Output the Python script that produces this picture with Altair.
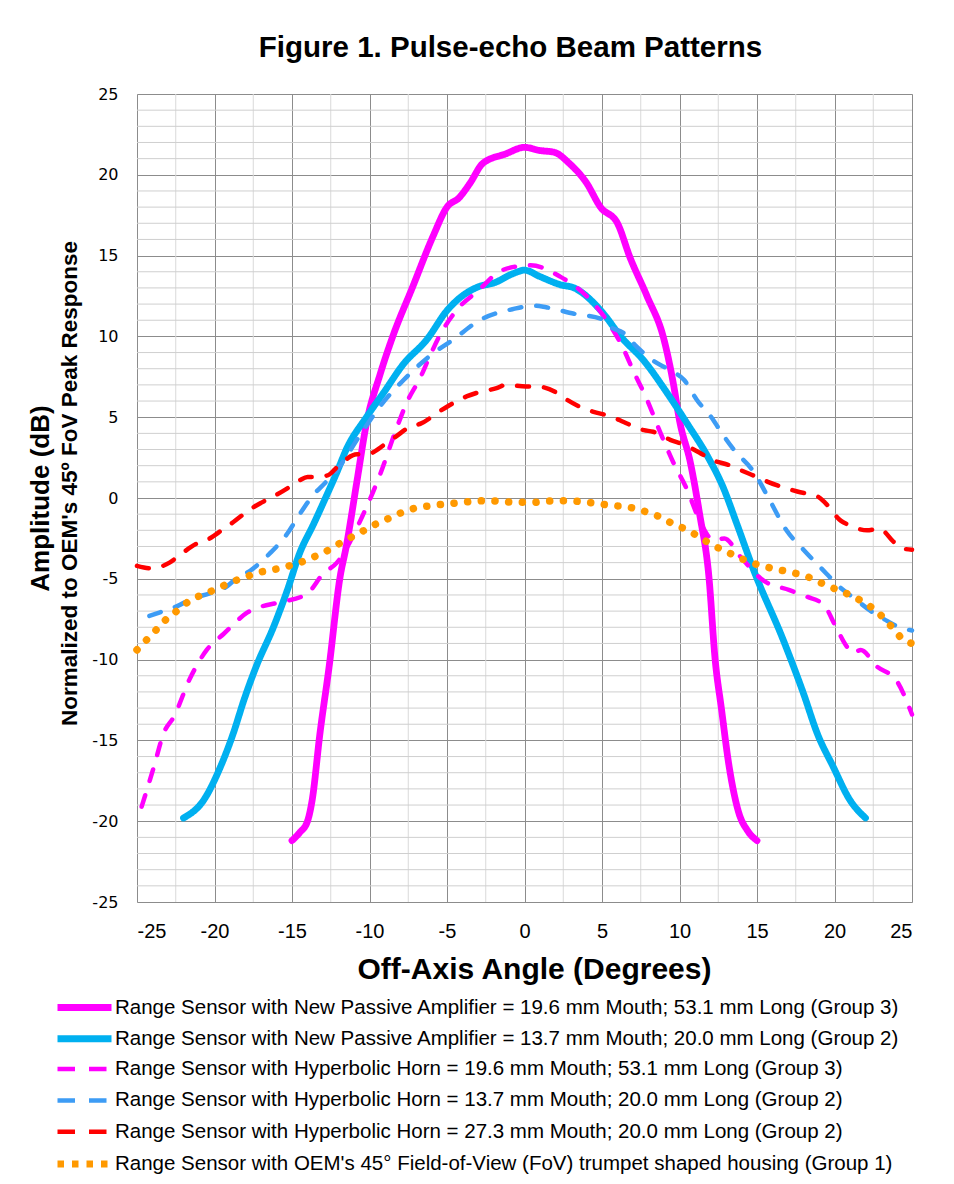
import altair as alt
import pandas as pd

SERIES = [
    "Range Sensor with New Passive Amplifier = 19.6 mm Mouth; 53.1 mm Long (Group 3)",
    "Range Sensor with New Passive Amplifier = 13.7 mm Mouth; 20.0 mm Long (Group 2)",
    "Range Sensor with Hyperbolic Horn = 19.6 mm Mouth; 53.1 mm Long (Group 3)",
    "Range Sensor with Hyperbolic Horn = 13.7 mm Mouth; 20.0 mm Long (Group 2)",
    "Range Sensor with Hyperbolic Horn = 27.3 mm Mouth; 20.0 mm Long (Group 2)",
    "Range Sensor with OEM's 45\u00b0 Field-of-View (FoV) trumpet shaped housing (Group 1)",
]
COLORS = ["#ff00ff", "#00b0f0", "#ff00ff", "#3d9cf5", "#ff0000", "#ff9900"]
DASHES = [[1, 0], [1, 0], [12, 15], [12, 15], [12, 15], [0.1, 13.6]]
WIDTHS = [6.8, 6.8, 4.5, 4.5, 4.5, 7.5]
LEGEND_DASHES = [[1, 0], [1, 0], [17.5, 14], [17.5, 14], [17.5, 14], [6.5, 8]]
LEGEND_WIDTHS = [7, 7, 4.5, 4.5, 4.5, 7]

# Passive amplifier 19.6 mm (magenta solid)
S1_X = [-15.0, -14.5, -14.0, -13.7, -13.2, -12.6, -11.9, -11.5, -10.8, -10.2, -9.3, -8.5, -7.2, -5.9, -5.0,
        -4.2, -3.5, -2.7, -1.2, 0.0, 1.0, 1.9, 2.9, 4.0, 4.9, 6.0, 6.8, 7.9, 9.0, 9.6, 10.0, 10.7, 11.3,
        11.9, 12.3, 12.7, 13.2, 13.8, 14.4, 15.0]
S1_Y = [-21.2, -20.7, -20.0, -18.7, -14.6, -10.4, -4.9, -3.0, 1.1, 4.6, 7.7, 10.0, 13.1, 16.2, 18.0,
        18.6, 19.5, 20.7, 21.3, 21.7, 21.5, 21.4, 20.7, 19.5, 18.0, 17.0, 14.9, 12.5, 9.8, 7.1, 4.8, 2.2, -1.0,
        -4.9, -10.0, -13.0, -16.6, -19.4, -20.6, -21.2]

# Passive amplifier 13.7 mm (cyan solid)
S2_X = [-22.0, -20.7, -19.6, -18.8, -18.1, -17.3, -16.2, -15.3, -14.5, -13.6, -12.7, -12.1, -11.5, -10.2,
        -9.1, -7.8, -6.3, -5.0, -2.9, -2.0, -0.7, 0.0, 1.0, 2.3, 3.2, 5.1, 6.2, 7.7, 9.2, 10.5, 11.8, 12.8,
        13.7, 14.8, 16.7, 18.0, 18.9, 19.9, 21.0, 22.0]
S2_Y = [-19.8, -18.7, -16.6, -14.6, -12.5, -10.4, -8.0, -5.7, -3.4, -1.6, 0.3, 1.6, 3.0, 5.0,
        6.5, 8.3, 9.8, 11.6, 13.1, 13.3, 13.9, 14.1, 13.7, 13.2, 13.0, 11.4, 10.0, 8.5, 6.5, 4.6, 2.6, 0.7,
        -1.6, -4.5, -8.8, -12.1, -14.6, -16.6, -18.7, -19.8]

# Hyperbolic horn 19.6 mm (magenta dashed)
S3_X = [-24.7, -23.9, -23.3, -22.6, -21.6, -20.5, -19.4, -17.9, -16.0, -15.5, -14.0, -13.0, -12.1, -10.4,
        -9.3, -8.3, -7.6, -6.7, -6.1, -5.5, -4.4, -2.9, -1.8, -0.7, 0.4, 2.3, 4.0, 5.3, 6.4, 7.0, 7.9, 8.7,
        9.6, 10.5, 11.3, 12.2, 12.9, 13.9, 15.4, 17.1, 18.2, 19.3, 20.1, 20.8, 21.2, 21.7, 22.7, 24.0, 25.0]
S3_Y = [-19.1, -16.6, -14.6, -13.5, -11.2, -9.4, -8.4, -7.1, -6.5, -6.4, -5.9, -4.7, -4.0, -1.0,
        1.5, 4.2, 5.9, 7.5, 8.8, 10.0, 11.6, 12.9, 13.9, 14.3, 14.4, 13.7, 12.5, 11.0, 9.2, 7.9, 6.1, 4.2,
        2.2, 0.5, -1.4, -2.6, -2.5, -3.6, -5.1, -5.7, -6.1, -6.6, -8.0, -9.2, -9.6, -9.4, -10.4, -11.3, -13.4]

# Hyperbolic horn 13.7 mm (blue dashed)
S4_X = [-24.2, -23.3, -22.2, -21.6, -20.3, -19.4, -18.6, -17.7, -16.4, -15.3, -14.5, -13.7, -12.9, -12.3,
        -10.4, -9.3, -7.8, -6.1, -4.6, -2.9, -0.7, 0.6, 1.4, 3.2, 4.9, 5.5, 6.4, 7.2, 8.3, 9.4, 10.3, 11.1,
        12.2, 12.6, 13.5, 14.8, 15.8, 16.9, 18.0, 19.5, 20.1, 21.4, 22.5, 23.2, 24.2, 25.0]
S4_Y = [-7.3, -7.0, -6.6, -6.3, -5.9, -5.6, -5.0, -4.5, -3.4, -2.2, -1.0, 0.1, 0.9, 1.5,
        4.2, 5.7, 7.3, 8.8, 9.8, 11.0, 11.7, 11.9, 11.8, 11.4, 11.1, 10.6, 10.2, 9.4, 8.5, 7.9, 7.3, 6.1,
        4.8, 4.2, 3.0, 1.6, -0.1, -2.0, -3.2, -4.7, -5.3, -6.3, -7.1, -7.5, -8.0, -8.2]

# Hyperbolic horn 27.3 mm (red dashed)
S5_X = [-25.0, -24.1, -22.9, -22.2, -21.1, -20.5, -19.4, -18.8, -17.7, -17.0, -16.0, -15.3, -14.5, -14.0,
        -13.6, -12.7, -12.0, -10.8, -10.2, -8.9, -8.3, -7.4, -6.7, -5.5, -5.0, -3.7, -3.1, -1.8, -1.2, 0.1,
        0.8, 2.1, 2.7, 3.8, 4.4, 5.7, 6.4, 7.7, 8.3, 9.4, 10.3, 11.3, 12.0, 13.3, 14.0, 15.0, 15.7, 16.9,
        17.6, 18.9, 19.4, 20.4, 21.0, 22.1, 22.9, 23.8, 24.3, 25.0]
S5_Y = [-4.2, -4.35, -4.0, -3.5, -2.8, -2.6, -1.9, -1.5, -0.7, -0.3, 0.2, 0.6, 1.1, 1.3,
        1.3, 1.4, 2.0, 2.7, 2.7, 3.4, 3.8, 4.4, 4.6, 5.35, 5.65, 6.3, 6.5, 6.8, 7.0, 6.9,
        6.9, 6.5, 6.1, 5.55, 5.35, 5.0, 4.7, 4.2, 4.1, 3.6, 3.3, 2.8, 2.4, 2.0, 1.7, 1.3, 1.0, 0.6,
        0.4, 0.1, -0.3, -1.4, -1.7, -2.0, -1.9, -2.7, -3.1, -3.2]

# OEM 45 deg trumpet housing (orange dotted)
S6_X = [-25.0, -24.3, -23.7, -23.0, -22.3, -21.6, -20.7, -19.8, -19.0, -18.1, -17.2, -16.3, -15.4, -14.5,
        -13.6, -12.8, -12.0, -11.2, -10.3, -9.5, -8.6, -7.8, -6.9, -6.0, -5.1, -4.1, -3.2, -2.3, -1.3, -0.4,
        0.5, 1.4, 2.4, 3.3, 4.2, 5.2, 6.1, 7.0, 7.9, 8.8, 9.6, 10.5, 11.3, 12.1, 13.0, 13.8, 14.7, 15.6,
        16.5, 17.4, 18.3, 19.1, 20.0, 20.9, 21.7, 22.5, 23.2, 23.8, 24.4, 25.0]
S6_Y = [-9.4, -8.7, -8.1, -7.4, -6.9, -6.35, -5.96, -5.6, -5.24, -4.93, -4.62, -4.46, -4.25, -4.0,
        -3.65, -3.3, -2.85, -2.44, -1.98, -1.57, -1.2, -0.85, -0.6, -0.48, -0.37, -0.29, -0.19, -0.17, -0.23, -0.27,
        -0.27, -0.2, -0.17, -0.2, -0.29, -0.41, -0.5, -0.62, -0.87, -1.2, -1.61, -1.98, -2.43, -2.9, -3.3, -3.67, -4.02, -4.27,
        -4.46, -4.64, -4.89, -5.24, -5.61, -5.96, -6.35, -6.85, -7.45, -8.09, -8.74, -9.0]

SERIES_X = [S1_X, S2_X, S3_X, S4_X, S5_X, S6_X]
SERIES_Y = [S1_Y, S2_Y, S3_Y, S4_Y, S5_Y, S6_Y]

X_TICKS = [-25, -20, -15, -10, -5, 0, 5, 10, 15, 20, 25]
Y_TICKS = [-25, -20, -15, -10, -5, 0, 5, 10, 15, 20, 25]
X_MINOR = [-22.5, -17.5, -12.5, -7.5, -2.5, 2.5, 7.5, 12.5, 17.5, 22.5]
Y_MINOR = [v for v in range(-24, 25) if v % 5 != 0]

rows = []
for name, xs, ys in zip(SERIES, SERIES_X, SERIES_Y):
    for xv, yv in zip(xs, ys):
        rows.append({"series": name, "angle": xv, "amp": yv})
df = pd.DataFrame(rows)

SANS = "Liberation Sans, Arial, sans-serif"

x_scale = alt.Scale(domain=[-25, 25], nice=False, zero=False)
y_scale = alt.Scale(domain=[-25, 25], nice=False, zero=False)

x_axis = alt.Axis(values=X_TICKS, grid=True, gridColor="#8c8c8c", gridWidth=1, ticks=False, domain=False,
                  labelExpr="'' + datum.value",
                  labelFont=SANS, labelFontSize=20, labelColor="#000000", labelPadding=19,
                  title="Off-Axis Angle (Degrees)", titleFont=SANS, titleFontSize=30,
                  titleFontWeight="bold", titleColor="#000000", titlePadding=13, titleX=397)

y_axis_main = alt.Axis(values=Y_TICKS, grid=True, gridColor="#8c8c8c", gridWidth=1, ticks=False,
                       domain=False, orient="left", labelExpr="'' + datum.value",
                       labelFont="DejaVu Sans", labelFontSize=16, labelColor="#000000", labelPadding=19,
                       title="Normalized to OEM's 45\u00ba FoV Peak Response", titleFont=SANS,
                       titleFontSize=22.5, titleFontWeight="bold", titleColor="#000000",
                       titleX=-68, titleY=389, titleBaseline="middle")

y_axis_amp = alt.Axis(orient="left", labels=False, ticks=False, domain=False, grid=False,
                      title="Amplitude (dB)", titleFont=SANS, titleFontSize=26,
                      titleFontWeight="bold", titleColor="#000000", titleX=-97, titleBaseline="middle")

legend = alt.Legend(title=None, orient="none", legendX=-65, legendY=901, direction="vertical",
                    symbolType="M-3,0H3", symbolSize=324, labelFont=SANS, labelFontSize=20.5,
                    labelColor="#000000", labelLimit=0, rowPadding=2.3, labelOffset=18, padding=0,
                    gridAlign="all")

minor_v = alt.Chart(pd.DataFrame({"v": X_MINOR})).mark_rule(color="#d9d9d9", strokeWidth=1).encode(
    x=alt.X("v:Q", scale=x_scale, axis=x_axis)
)
minor_h = alt.Chart(pd.DataFrame({"v": Y_MINOR})).mark_rule(color="#cfcfcf", strokeWidth=1).encode(
    y=alt.Y("v:Q", scale=y_scale, axis=y_axis_amp)
)

layers = [minor_v, minor_h]
for i, name in enumerate(SERIES):
    layer = alt.Chart(df).transform_filter(alt.datum.series == name).mark_line(
        interpolate="monotone", strokeCap="round", strokeJoin="round",
        color=COLORS[i], strokeDash=DASHES[i], strokeWidth=WIDTHS[i]
    ).encode(
        x=alt.X("angle:Q", scale=x_scale, axis=x_axis),
        y=alt.Y("amp:Q", scale=y_scale, axis=y_axis_main if i == 0 else None),
    )
    layers.append(layer)

# legend-only layer (no rows survive the filter; the legend comes from the scale domains)
legend_layer = alt.Chart(df).transform_filter("false").mark_line().encode(
    x=alt.X("angle:Q", scale=x_scale, axis=x_axis),
    color=alt.Color("series:N", scale=alt.Scale(domain=SERIES, range=COLORS), legend=legend),
    strokeDash=alt.StrokeDash("series:N", scale=alt.Scale(domain=SERIES, range=LEGEND_DASHES), legend=legend),
    strokeWidth=alt.StrokeWidth("series:N", scale=alt.Scale(type="ordinal", domain=SERIES, range=LEGEND_WIDTHS),
                                legend=legend),
)
layers.append(legend_layer)

chart = alt.layer(*layers).resolve_scale(y="independent").properties(
    width=775,
    height=808,
    title=alt.TitleParams("Figure 1. Pulse-echo Beam Patterns", font=SANS, fontSize=29.5, fontWeight="bold",
                          color="#000000", anchor="middle", offset=23, dx=-14),
    autosize=alt.AutoSizeParams(type="none"),
    padding={"left": 129, "top": 86, "right": 30, "bottom": 274},
).configure_view(stroke="#8c8c8c", strokeWidth=1).configure(background="white")

chart.save("out.html", embed_options={"renderer": "svg", "actions": False})
